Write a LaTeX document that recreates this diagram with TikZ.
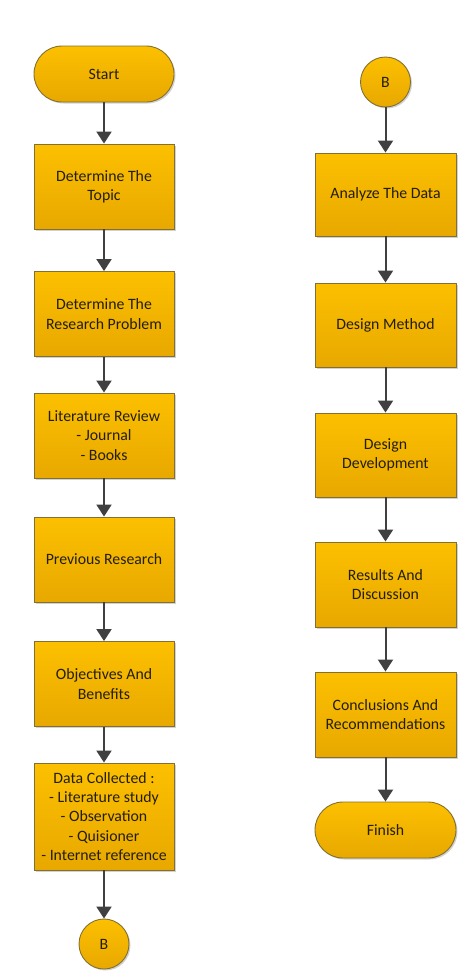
\documentclass[tikz,border=0pt]{standalone}
\usepackage{fontspec}
\setmainfont{Carlito}
\usetikzlibrary{arrows.meta,shadows}
\definecolor{boxtop}{RGB}{252,192,0}
\definecolor{boxbot}{RGB}{232,168,0}
\definecolor{boxedge}{RGB}{130,112,50}
\definecolor{txt}{RGB}{35,30,15}
\definecolor{arr}{RGB}{64,64,64}
\tikzset{
  base/.style={draw=boxedge, line width=0.9pt, top color=boxtop, bottom color=boxbot,
    text=txt, align=center, inner sep=0pt, font=\fontsize{15.8}{19.3}\selectfont,
    drop shadow={shadow xshift=1.5pt, shadow yshift=-1.5pt, fill=black!30, opacity=0.6}},
  procbox/.style={base, rectangle, minimum width=140pt, minimum height=85pt},
  termbox/.style={base, rectangle, rounded corners=28pt, minimum width=140pt, minimum height=56pt},
  connbox/.style={base, circle, minimum size=50pt},
  flow/.style={draw=arr, line width=2pt, -{Triangle[length=12pt,width=15pt]}}
}
\begin{document}
\begin{tikzpicture}[x=1pt,y=-1pt]
\useasboundingbox (0,0) rectangle (473,980);
% left column
\node[termbox] (start) at (104,74) {Start};
\node[procbox] (topic) at (104,186.5) {Determine The\\Topic};
\node[procbox] (problem) at (104,314) {Determine The\\Research Problem};
\node[procbox] (lit) at (104,435.5) {Literature Review\\- Journal\\- Books};
\node[procbox] (prev) at (104,559.5) {Previous Research};
\node[procbox] (obj) at (104,684) {Objectives And\\Benefits};
\node[procbox, minimum height=107pt] (data) at (104,816.5) {Data Collected :\\- Literature study\\- Observation\\- Quisioner\\- Internet reference};
\node[connbox] (b1) at (104,944) {B};
% right column
\node[connbox] (b2) at (385.5,82) {B};
\node[procbox, minimum width=141pt, minimum height=83pt] (analyze) at (385.5,194.5) {Analyze The Data};
\node[procbox, minimum width=141pt, minimum height=84pt] (method) at (385.5,325) {Design Method};
\node[procbox, minimum width=141pt, minimum height=84pt] (dev) at (385.5,455) {Design\\Development};
\node[procbox, minimum width=141pt, minimum height=85pt] (res) at (385.5,584.5) {Results And\\Discussion};
\node[procbox, minimum width=141pt, minimum height=85pt] (conc) at (385.5,714.5) {Conclusions And\\Recommendations};
\node[termbox, minimum width=141pt] (finish) at (385.5,830) {Finish};
% connectors
\draw[flow] (start) -- (topic);
\draw[flow] (topic) -- (problem);
\draw[flow] (problem) -- (lit);
\draw[flow] (lit) -- (prev);
\draw[flow] (prev) -- (obj);
\draw[flow] (obj) -- (data);
\draw[flow] (data) -- (b1);
\draw[flow] (b2) -- (analyze);
\draw[flow] (analyze) -- (method);
\draw[flow] (method) -- (dev);
\draw[flow] (dev) -- (res);
\draw[flow] (res) -- (conc);
\draw[flow] (conc) -- (finish);
\end{tikzpicture}
\end{document}
